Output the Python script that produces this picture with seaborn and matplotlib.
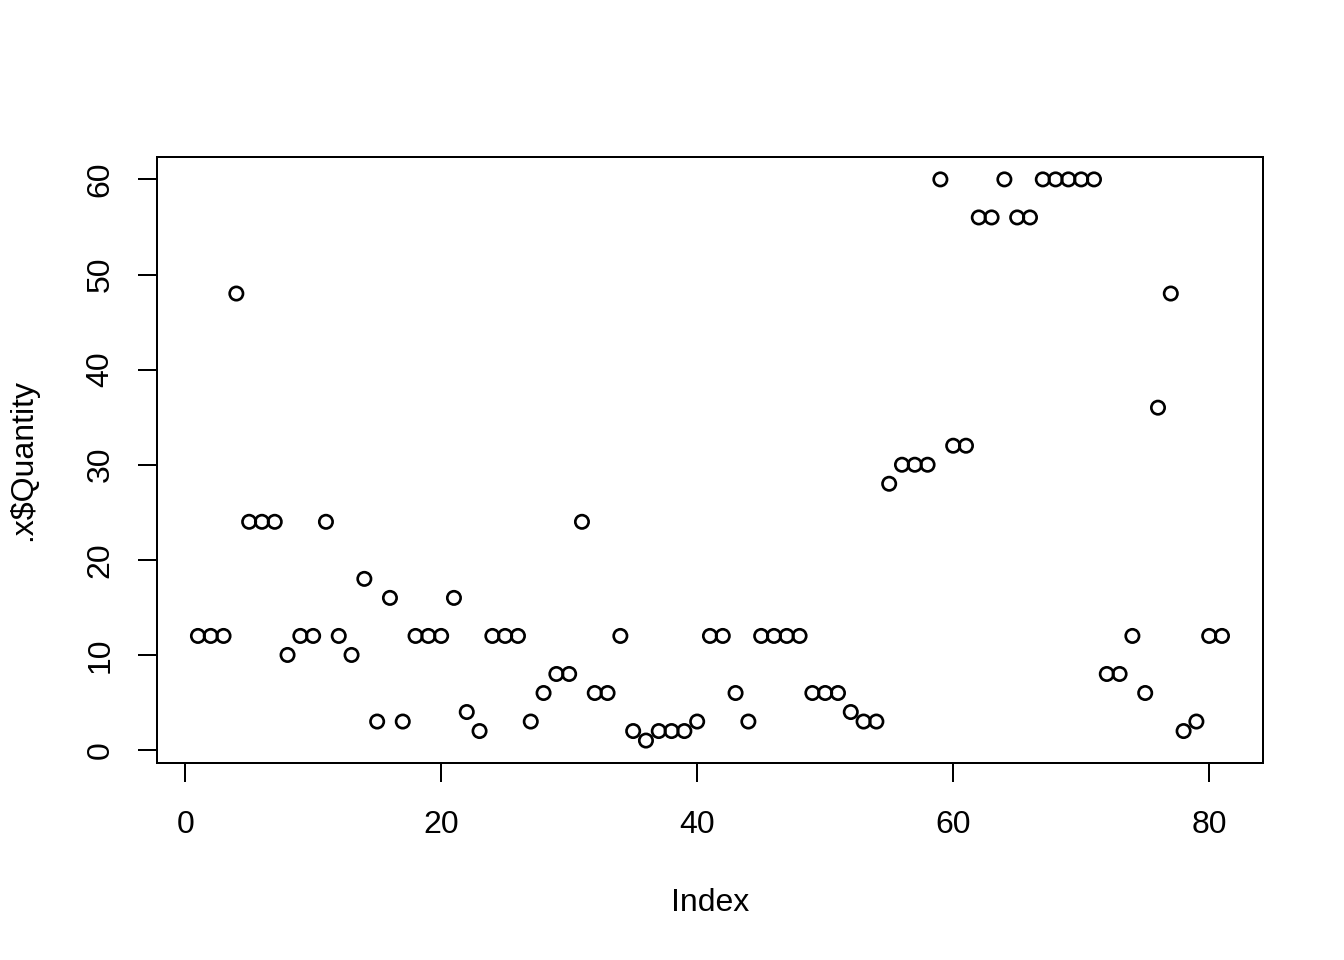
import numpy as np
import pandas as pd
import seaborn as sns
import matplotlib.pyplot as plt

# quantity per row, index runs 1..81
index = list(range(1, 82))
quantity = [12, 12, 12, 48, 24, 24, 24, 10, 12, 12,
            24, 12, 10, 18, 3, 16, 3, 12, 12, 12,
            16, 4, 2, 12, 12, 12, 3, 6, 8, 8,
            24, 6, 6, 12, 2, 1, 2, 2, 2, 3,
            12, 12, 6, 3, 12, 12, 12, 12, 6, 6,
            6, 4, 3, 3, 28, 30, 30, 30, 60, 32,
            32, 56, 56, 60, 56, 56, 60, 60, 60, 60,
            60, 8, 8, 12, 6, 36, 48, 2, 3, 12,
            12]
xticks = [0, 20, 40, 60, 80]
yticks = [0, 10, 20, 30, 40, 50, 60]

df = pd.DataFrame({'Index': index, 'Quantity': quantity})

sns.set_style('white')
plt.rcParams['font.family'] = ['Liberation Sans', 'DejaVu Sans']
plt.rcParams['font.size'] = 12
for k in ['text.color', 'axes.labelcolor', 'xtick.color', 'ytick.color']:
    plt.rcParams[k] = 'black'

fig, ax = plt.subplots(figsize=(7, 5), dpi=192)
fig.subplots_adjust(left=0.1168, right=0.9397, top=0.8365, bottom=0.2052)

sns.scatterplot(x='Index', y='Quantity', data=df, ax=ax, marker='o',
                facecolors='none', edgecolor='black', linewidth=1.0, s=25)

ax.set_xlim(-2.2, 84.2)
ax.set_ylim(-1.36, 62.36)
ax.set_xticks(xticks)
ax.set_yticks(yticks)
ax.set_yticklabels([str(t) for t in yticks], rotation=90, va='center')
ax.tick_params(direction='out', length=7, width=0.75, color='black',
               labelsize=12, bottom=True, left=True)
ax.tick_params(axis='x', pad=10.5)
ax.tick_params(axis='y', pad=8.5)
for s in ax.spines.values():
    s.set_color('black')
    s.set_linewidth(0.75)

ax.set_xlabel('Index', fontsize=12, labelpad=18)
ax.set_ylabel('.x$Quantity', fontsize=12, labelpad=18)

fig.savefig('out.png', dpi=192)
